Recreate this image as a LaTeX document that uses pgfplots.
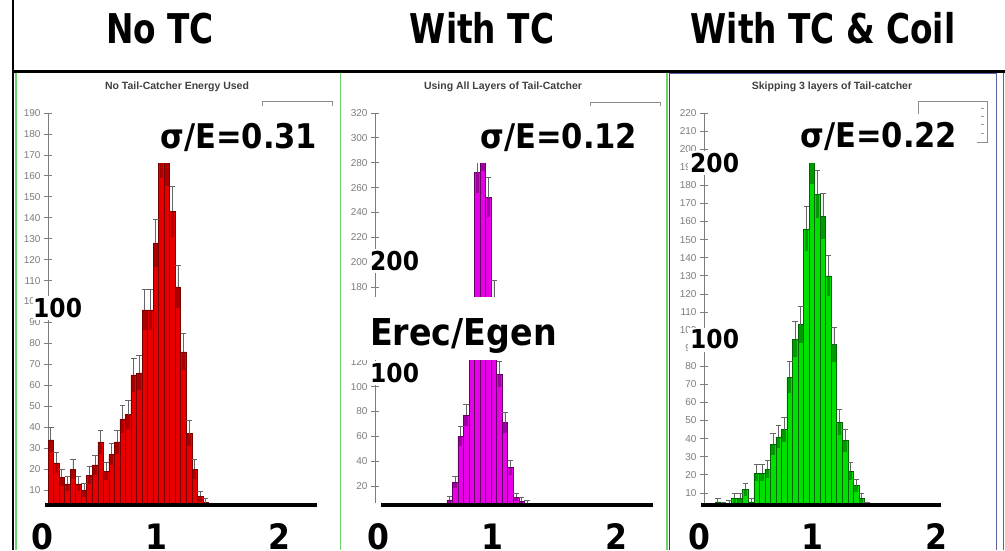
\documentclass[border=0pt]{standalone}
\usepackage{fontspec}
\setmainfont{DejaVu Sans}
\newfontfamily\bigfont[FakeStretch=0.9]{DejaVu Sans Bold}
\newfontfamily\headfont[FakeStretch=0.8]{DejaVu Sans Bold}
\newfontfamily\smallfont{Liberation Sans}
\usepackage{pgfplots}
\pgfplotsset{compat=1.18}
\usepackage{pgfplotstable}

\definecolor{hred}{RGB}{232,0,0}
\definecolor{hredd}{RGB}{120,0,0}
\definecolor{hmag}{RGB}{232,0,232}
\definecolor{hmagd}{RGB}{100,0,100}
\definecolor{hgrn}{RGB}{0,224,0}
\definecolor{hgrnd}{RGB}{0,100,0}
\definecolor{tickgray}{RGB}{125,125,125}
\definecolor{pgreen}{RGB}{110,210,110}

% bin centre, count, error
\pgfplotstableread{
x y e
0.025 34 5.8
0.075 23 4.8
0.125 16 4.0
0.175 13 3.6
0.225 20 4.5
0.275 13 3.6
0.325 10 3.2
0.375 17 4.1
0.425 22 4.7
0.475 33 5.7
0.525 19 4.4
0.575 27 5.2
0.625 33 5.7
0.675 44 6.6
0.725 46 6.8
0.775 65 8.1
0.825 66 8.1
0.875 96 9.8
0.925 96 9.8
0.975 128 11.3
1.025 172 13.1
1.075 168 13.0
1.125 143 12.0
1.175 107 10.3
1.225 76 8.7
1.275 37 6.1
1.325 20 4.5
1.375 7 2.6
1.425 4 2.0
}\tabA

\pgfplotstableread{
x y e
0.675 9 3.0
0.725 23 4.8
0.775 60 7.7
0.825 77 8.8
0.875 150 12.2
0.925 272 16.5
0.975 290 17.0
1.025 252 15.9
1.075 172 13.1
1.125 110 10.5
1.175 71 8.4
1.225 35 5.9
1.275 11 3.3
1.325 8 2.8
1.375 6 2.4
}\tabB

\pgfplotstableread{
x y e
0.125 5 2.2
0.175 3 1.7
0.225 4 2.0
0.275 7 2.6
0.325 7 2.6
0.375 12 3.5
0.425 5 2.2
0.475 21 4.6
0.525 21 4.6
0.575 23 4.8
0.625 37 6.1
0.675 41 6.4
0.725 45 6.7
0.775 74 8.6
0.825 95 9.7
0.875 103 10.1
0.925 156 12.5
0.975 195 14.0
1.025 175 13.2
1.075 163 12.8
1.125 130 11.4
1.175 92 9.6
1.225 49 7.0
1.275 39 6.2
1.325 22 4.7
1.375 14 3.7
1.425 7 2.6
1.475 3 1.7
}\tabC

\pgfplotsset{
  hist/.style={
    scale only axis, width=276.5pt, height=398pt,
    xmin=0, xmax=2.5, ymin=0,
    anchor=south west,
    axis y line*=left, axis x line=none,
    y axis line style={draw=tickgray, line width=0.9pt},
    ytick style={draw=tickgray, line width=0.8pt},
    tick align=center, major tick length=8pt,
    xtick=\empty,
    yticklabel style={font=\smallfont\fontsize{10}{10}\selectfont, text=tickgray},
    /pgf/number format/assume math mode=true,
    ybar, bar width=0.05, bar shift=0,
  },
  errup/.style={error bars/.cd, y dir=plus, y explicit,
    error bar style={black!60, line width=0.7pt},
    error mark options={rotate=90, mark size=2.8pt, black!60, line width=0.7pt}},
}

\begin{document}
\begin{tikzpicture}[x=1pt,y=-1pt]
\useasboundingbox (0,0) rectangle (1005,550);
\fill[white] (0,0) rectangle (1005,550);

% panel 1
\begin{axis}[hist, at={(48pt,-511pt)}, ymax=190, ytick={10,20,...,190}]
\addplot[fill=hred, draw=hredd, line width=0.5pt, errup]
  table[x=x, y=y, y error=e] {\tabA};
\addplot[draw=none, fill=none, forget plot,
  error bars/.cd, y dir=minus, y explicit, error mark=none,
  error bar style={hredd, line width=3.5pt, opacity=0.55}]
  table[x=x, y=y, y error=e] {\tabA};
\end{axis}

% panel 2
\begin{axis}[hist, at={(375pt,-511pt)}, ymax=320, ytick={20,40,...,320}]
\addplot[fill=hmag, draw=hmagd, line width=0.5pt, errup]
  table[x=x, y=y, y error=e] {\tabB};
\addplot[draw=none, fill=none, forget plot,
  error bars/.cd, y dir=minus, y explicit, error mark=none,
  error bar style={hmagd, line width=3.5pt, opacity=0.55}]
  table[x=x, y=y, y error=e] {\tabB};
\end{axis}

% panel 3
\begin{axis}[hist, at={(704pt,-511pt)}, ymax=220, ytick={10,20,...,220}]
\addplot[fill=hgrn, draw=hgrnd, line width=0.5pt, errup]
  table[x=x, y=y, y error=e] {\tabC};
\addplot[draw=none, fill=none, forget plot,
  error bars/.cd, y dir=minus, y explicit, error mark=none,
  error bar style={hgrnd, line width=3.5pt, opacity=0.55}]
  table[x=x, y=y, y error=e] {\tabC};
\end{axis}

% histogram titles
\begin{scope}[every node/.style={font=\smallfont\bfseries\fontsize{10.5}{11}\selectfont, text=black!75, inner sep=0}]
\node at (177,87) {No Tail-Catcher Energy Used};
\node at (503,87) {Using All Layers of Tail-Catcher};
\node at (832,87) {Skipping 3 layers of Tail-catcher};
\end{scope}

% stat boxes
\draw[black!45, line width=0.7pt] (262,101) rectangle (332,125);
\draw[black!45, line width=0.7pt] (590,102) rectangle (660,125);
\draw[black!45, line width=0.7pt] (918,101) rectangle (987,142);
\foreach \yy in {108,116,124,133} \draw[black!40, line width=0.8pt] (981,\yy) -- (984,\yy);

% white overlay boxes
\fill[white] (140,106) rectangle (336,163);
\fill[white] (400,106) rectangle (662,163);
\fill[white] (790,114) rectangle (977,163);
\fill[white] (33,296) rectangle (85,320);
\fill[white] (368,249) rectangle (420,273);
\fill[white] (342,297) rectangle (600,360);
\fill[white] (368,361) rectangle (420,385);
\fill[white] (688,151) rectangle (740,175);
\fill[white] (688,328) rectangle (740,352);
\fill[white] (17,503) rectangle (330,550);
\fill[white] (343,503) rectangle (652,550);
\fill[white] (671,503) rectangle (975,550);

% slide frame
\draw[black, line width=2pt] (13,0) -- (13,550);
\draw[black, line width=3pt] (12,71) -- (1005,71);
\draw[pgreen, line width=1.2pt] (16,73) -- (16,550);
\draw[pgreen, line width=1.2pt] (340.5,73) -- (340.5,550);
\draw[pgreen, line width=1.2pt] (667,73) -- (667,550);
\draw[black!70!cyan!60!black, line width=1pt] (669,73) -- (669,550);
\draw[blue!30!gray, line width=1pt] (669,73.5) -- (996,73.5);
\draw[blue!25!gray, line width=1pt] (996,73) -- (996,550);
\draw[black!60, line width=1pt] (1003.5,73) -- (1003.5,550);

% headers
\begin{scope}[every node/.style={font=\headfont\fontsize{41}{41}\selectfont, anchor=base, inner sep=0}]
\node at (160,43) {No TC};
\node at (482,43) {With TC};
\node at (823,43) {With TC \& Coil};
\end{scope}

% big overlay labels
\begin{scope}[every node/.style={font=\bigfont\fontsize{34}{34}\selectfont, anchor=base west, inner sep=0}]
\node at (160,148) {σ/E=0.31};
\node at (480,148) {σ/E=0.12};
\node at (800,147) {σ/E=0.22};
\end{scope}
\node[font=\bigfont\fontsize{37}{37}\selectfont, anchor=base west, inner sep=0] at (370,345) {Erec/Egen};
\begin{scope}[every node/.style={font=\bigfont\fontsize{26}{26}\selectfont, anchor=base west, inner sep=0}]
\node at (33,317) {100};
\node at (370,270) {200};
\node at (370,382) {100};
\node at (690,172) {200};
\node at (690,348) {100};
\end{scope}

% bottom axis lines and labels
\draw[black, line width=3.4pt] (45,505) -- (317,505);
\draw[black, line width=3.4pt] (381,505) -- (653,505);
\draw[black, line width=3.4pt] (701,505) -- (941,505);
\begin{scope}[every node/.style={font=\bigfont\fontsize{35}{35}\selectfont, anchor=base, inner sep=0}]
\node at (42.5,549) {0};
\node at (156,549) {1};
\node at (279,549) {2};
\node at (378.5,549) {0};
\node at (492,549) {1};
\node at (616,549) {2};
\node at (699,549) {0};
\node at (812,549) {1};
\node at (936,549) {2};
\end{scope}
\end{tikzpicture}
\end{document}
